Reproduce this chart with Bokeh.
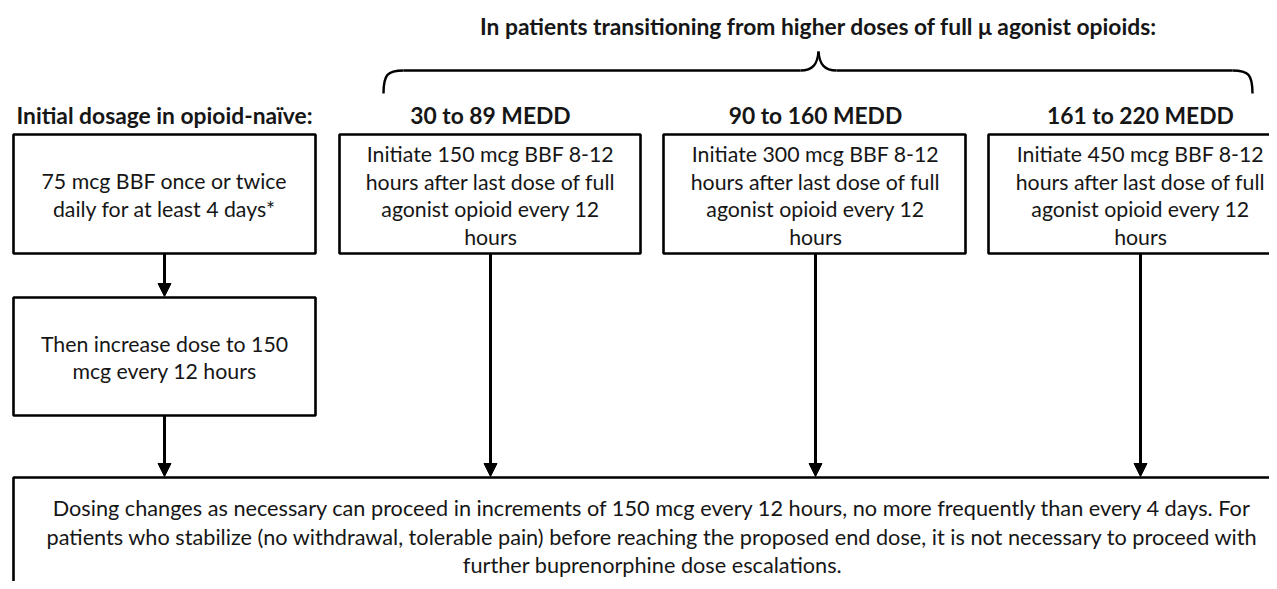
from bokeh.plotting import figure
from bokeh.models import Range1d, Arrow, NormalHead, ColumnDataSource
from bokeh.core.properties import value
from bokeh.embed import file_html
from bokeh.resources import INLINE

FONT = "Lato"
TXT = "#161616"

# ---- content ----
title_text = "In patients transitioning from higher doses of full \u03bc agonist opioids:"
headers = ["Initial dosage in opioid-na\u00efve:", "30 to 89 MEDD", "90 to 160 MEDD", "161 to 220 MEDD"]
box_texts = [
    ["75 mcg BBF once or twice", "daily for at least 4 days*"],
    ["Initiate 150 mcg BBF 8-12", "hours after last dose of full", "agonist opioid every 12", "hours"],
    ["Initiate 300 mcg BBF 8-12", "hours after last dose of full", "agonist opioid every 12", "hours"],
    ["Initiate 450 mcg BBF 8-12", "hours after last dose of full", "agonist opioid every 12", "hours"],
]
second_box_text = ["Then increase dose to 150", "mcg every 12 hours"]
bottom_text = [
    "Dosing changes as necessary can proceed in increments of 150 mcg every 12 hours, no more frequently than every 4 days. For",
    "patients who stabilize (no withdrawal, tolerable pain) before reaching the proposed end dose, it is not necessary to proceed with",
    "further buprenorphine dose escalations.",
]

# ---- layout (pixel space of the page) ----
col_left = [13, 339, 663, 988]
col_right = [315, 640, 965, 1292]
col_center = [164, 490, 815, 1140]
top_box = (134, 253)
second_box = (297, 415)
bottom_box = (477, 600)
bottom_lr = (13, 1292)
line_h = 27.5

W, H = 1269, 581
p = figure(width=W, height=H, output_backend="svg", toolbar_location=None,
           x_range=Range1d(0, W), y_range=Range1d(H, 0),
           x_axis_type=None, y_axis_type=None, min_border=0)
p.outline_line_color = None
p.grid.visible = False
p.background_fill_color = "white"
p.border_fill_color = "white"

# boxes
qs = dict(left=[], right=[], top=[], bottom=[])
for l, r in zip(col_left, col_right):
    qs["left"].append(l); qs["right"].append(r); qs["top"].append(top_box[0]); qs["bottom"].append(top_box[1])
qs["left"].append(col_left[0]); qs["right"].append(col_right[0]); qs["top"].append(second_box[0]); qs["bottom"].append(second_box[1])
qs["left"].append(bottom_lr[0]); qs["right"].append(bottom_lr[1]); qs["top"].append(bottom_box[0]); qs["bottom"].append(bottom_box[1])
p.quad(source=ColumnDataSource(qs), left="left", right="right", top="top", bottom="bottom",
       fill_color="white", line_color="black", line_width=2.6)

# text
def lines_xy(lines, cx, cy, lh):
    n = len(lines)
    return [cx] * n, [cy + (i - (n - 1) / 2) * lh for i in range(n)], list(lines)

tx, ty, tt = [], [], []
for cx, cy, lines in [(col_center[0], 194.5, box_texts[0]),
                      (col_center[1], 195, box_texts[1]),
                      (col_center[2], 195, box_texts[2]),
                      (col_center[3], 195, box_texts[3]),
                      (col_center[0], 357, second_box_text)]:
    a, b, c = lines_xy(lines, cx, cy, line_h)
    tx += a; ty += b; tt += c
p.text(x=tx, y=ty, text=tt, text_font=value(FONT), text_font_size="21.3px",
       text_align="center", text_baseline="middle", text_color=TXT)

bx_, by_, bt_ = lines_xy(bottom_text, 652, 536, 28.5)
p.text(x=bx_, y=by_, text=bt_, text_font=value(FONT), text_font_size="21.7px",
       text_align="center", text_baseline="middle", text_color=TXT)

p.text(x=col_center, y=[114] * 4, text=headers, text_font=value(FONT), text_font_size="22.8px",
       text_font_style="bold", text_align="center", text_baseline="middle", text_color=TXT)
p.text(x=[818], y=[25], text=[title_text], text_font=value(FONT), text_font_size="22.8px",
       text_font_style="bold", text_align="center", text_baseline="middle", text_color=TXT)

# brace
L, R, C, yb, yh, yp = 383, 1252, 818, 93, 70, 51
p.bezier(x0=[L, C, C, R], y0=[yb, yp, yp, yb],
         x1=[L + 20, C - 18, C + 18, R - 20], y1=[yh, yh, yh, yh],
         cx0=[L, C - 1, C + 1, R], cy0=[yh + 4, yh - 6, yh - 6, yh + 4],
         cx1=[L + 4, C - 6, C + 6, R - 4], cy1=[yh, yh, yh, yh],
         line_color="black", line_width=2.4)
p.segment(x0=[L + 20, C + 18], y0=[yh, yh], x1=[C - 18, R - 20], y1=[yh, yh],
          line_color="black", line_width=2.4)

# arrows
arrows = [(col_center[0], top_box[1], second_box[0]),
          (col_center[0], second_box[1], bottom_box[0])] + \
         [(col_center[k], top_box[1], bottom_box[0]) for k in range(1, 4)]
for ax, y0, y1 in arrows:
    p.add_layout(Arrow(x_start=ax, y_start=y0, x_end=ax, y_end=y1 - 1, line_width=3, line_color="black",
                       end=NormalHead(size=13, fill_color="black", line_color="black", line_width=1)))

open("out.html", "w").write(file_html(p, INLINE))
